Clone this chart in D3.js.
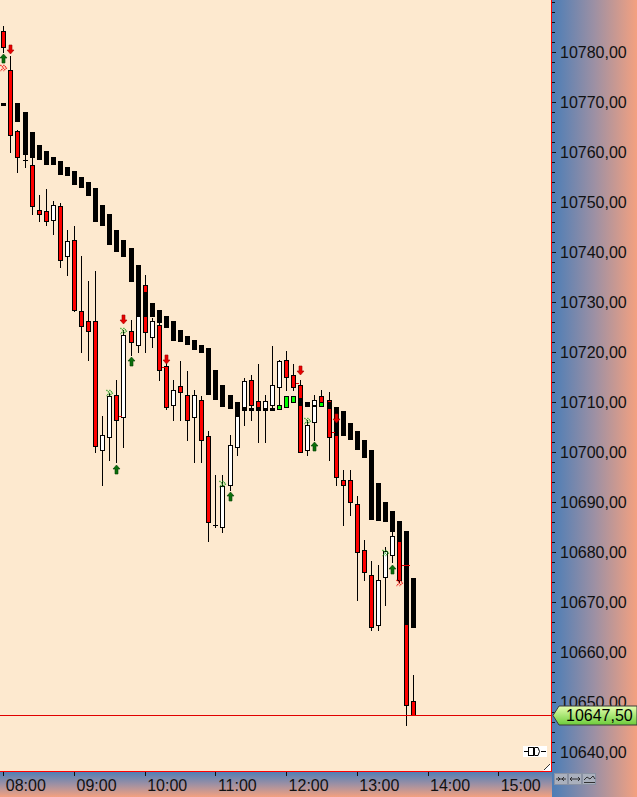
<!DOCTYPE html>
<html><head><meta charset="utf-8">
<script src="https://cdn.jsdelivr.net/npm/d3@7"></script>
<style>html,body{margin:0;padding:0;background:#fde9cf;overflow:hidden}svg{display:block}</style>
</head><body><svg id="c" width="637" height="797"></svg>
<script>
// ---------- DATA ----------
const barTimes = ["08:00","08:06","08:12","08:18","08:24","08:30","08:36","08:42","08:48","08:54",
"09:00","09:06","09:12","09:18","09:24","09:30","09:36","09:42","09:48","09:54",
"10:00","10:06","10:12","10:18","10:24","10:30","10:36","10:42","10:48","10:54",
"11:00","11:06","11:12","11:18","11:24","11:30","11:36","11:42","11:48","11:54",
"12:00","12:06","12:12","12:18","12:24","12:30","12:36","12:42","12:48","12:54",
"13:00","13:06","13:12","13:18","13:24","13:30","13:36","13:42","13:48"];
const opens  = [10784.25,10776.5,10764.25,10758.5,10757.5,10748.5,10748.25,10746.5,10749.25,10739.25,
10742.5,10728.25,10726.25,10726.25,10700.5,10703,10711.5,10707,10724.25,10721.5,
10733.5,10723,10725.5,10717.25,10709.5,10713.25,10711.5,10707,10710.5,10703.25,
10685.5,10685,10693.5,10701,10709,10714.5,10710.25,10708.5,10709.5,10713,
10718.5,10715.5,10713.5,10700.5,10706,10711.25,10710.5,10703.5,10694.5,10694.5,
10689.5,10680.5,10675.5,10665.5,10675,10679.5,10683.25,10674.5,10650.25];
const highs  = [10785.25,10779.25,10764.5,10760,10758.75,10751.5,10752.5,10750.25,10749.75,10744.5,
10745.25,10739.25,10734.25,10736.25,10707.25,10711.75,10714.5,10724.5,10726.5,10732.5,
10735.5,10726.75,10727.5,10718,10714.5,10718.25,10716.25,10712.5,10711.25,10704.25,
10695.5,10695.5,10703.5,10709.5,10714.75,10715.5,10717.5,10711.5,10721.25,10718.5,
10720.25,10717.5,10714.5,10706.5,10711.5,10712.5,10712,10705.25,10696.5,10696.5,
10691.25,10682.5,10678.25,10677.5,10681,10684.5,10684.75,10676.5,10655.5];
const lows   = [10780,10760,10756,10757,10747.5,10746.25,10745.5,10743.5,10737,10735.5,
10728.25,10720,10718.5,10700,10693.5,10698.5,10698,10701,10719.5,10720,
10720,10721,10714.5,10708.5,10706.5,10706.5,10702.5,10698,10698,10682.25,
10685,10684,10692.5,10699.5,10705.5,10706.5,10702,10702,10708.5,10708.5,
10712.5,10712.5,10700,10699.5,10702.5,10709.25,10698.5,10693.5,10685.5,10687.5,
10670.5,10674.5,10664.5,10664.5,10669.5,10678,10674,10645.5,10647.5];
const closes = [10781,10763.5,10759,10758.5,10749.25,10747.5,10746.25,10749.5,10738.5,10742.25,
10728.5,10725.25,10724.25,10701.25,10703.5,10711.25,10706.5,10723.5,10722,10731.5,
10724,10726.25,10716.5,10709,10712.5,10712,10706.5,10711.5,10702.5,10686,
10685.5,10693.25,10701.5,10707.5,10714.25,10709.5,10709,10710.25,10713.5,10718.25,
10715,10713,10700,10705.5,10710.5,10710,10703,10695,10693.5,10690,
10680,10676,10665,10674.5,10680.25,10683.25,10674.5,10649.5,10647.5];
// trailing band indicator (top, bottom, colour: k = black, g = lime)
const bandHi = [10769.75,null,10769.75,10768,10764,10761.5,10760.25,10759,10758.25,10757,
10756.25,10755,10754,10752.75,10749.5,10747.5,10744.5,10742.5,10740.75,10737.5,
10732,10729.75,10728.5,10727.25,10726.25,10724.5,10723.25,10722.5,10721.5,10720.75,
10716.5,10713.5,10711.5,10710,10708.75,10708.75,10708.75,10708.75,10708.75,10709.5,
10711.25,10711.25,10710.75,10710,10709.5,10710,10710,10709,10708.25,10705.75,
10704.25,10702.5,10700.5,10693.75,10690,10688.25,10686.25,10684.25,10674.75];
const bandLo = [10769.25,null,10766,10759.5,10758.75,10758.5,10757.5,10757.5,10755.5,10755.25,
10753.5,10752.75,10751.25,10746,10745.25,10741.5,10740,10739,10734,10727,
10727,10727,10725.75,10724.75,10722.25,10722,10721.5,10720.5,10719.75,10711.5,
10710.5,10709,10708.5,10707,10708.25,10708.25,10708.25,10708.25,10708.25,10708.5,
10709,10710,10709.25,10709,10709,10709.25,10708.5,10703.5,10703.25,10702.5,
10700.5,10698.75,10686.5,10686.25,10686,10684,10682,10665.5,10664.75];
const bandColor = ["k","k","k","k","k","k","k","k","k","k",
"k","k","k","k","k","k","k","k","k","k",
"k","k","k","k","k","k","k","k","k","k",
"k","k","k","k","k","k","k","k","k","g",
"g","g","k","k","k","g","k","k","k","k",
"k","k","k","k","k","k","k","k","k"];
// signal markers
const upArrowBars = [0,16,18,32,44,55];
const upArrowPrices = [10779.5,10697.5,10719,10692,10702,10677.5];
const downArrowBars = [1,17,23,42,47];
const downArrowPrices = [10781.5,10727.5,10719.5,10717.25,10707.5];
const greenChevronBars = [15,17,31,43,54];
const greenChevronPrices = [10712.5,10724.75,10694.25,10706.75,10680.5];
const redChevronBars = [0,56];
const redChevronPrices = [10777.5,10674.5];
const redTickBars = [16,22,41,46,56];
const redTickPrices = [10707.25,10717,10713.75,10704,10677.5];
const lastPrice = 10647.5;
const hourLabels = ["08:00","09:00","10:00","11:00","12:00","13:00","14:00","15:00"];
const priceLabels = [10640,10650,10660,10670,10680,10690,10700,10710,10720,10730,10740,10750,10760,10770,10780];

// ---------- SETUP ----------
const W = 637, H = 797, PR = 551, PB = 771;
const parse = d3.timeParse("%H:%M");
const x = d3.scaleTime().domain([parse("08:00"), parse("15:00")]).range([3.3, 3.3 + 7 * 70.7]);
const y = d3.scaleLinear().domain([10640, 10780]).range([752, 52]);
const fmt = v => v.toFixed(2).replace(".", ",");
const FONT = "'Liberation Sans', Arial, sans-serif";

const svg = d3.select("#c");
const defs = svg.append("defs");
const gR = defs.append("linearGradient").attr("id","gR").attr("x1","0").attr("x2","1").attr("y1","0").attr("y2","0");
gR.append("stop").attr("offset","0").attr("stop-color","#4a7db7");
gR.append("stop").attr("offset","0.5").attr("stop-color","#9c90a4");
gR.append("stop").attr("offset","1").attr("stop-color","#f4a180");
const gB = defs.append("linearGradient").attr("id","gB").attr("x1","0").attr("x2","0").attr("y1","0").attr("y2","1");
gB.append("stop").attr("offset","0").attr("stop-color","#4a7db7");
gB.append("stop").attr("offset","0.5").attr("stop-color","#9c90a4");
gB.append("stop").attr("offset","1").attr("stop-color","#f4a180");
const gG = defs.append("linearGradient").attr("id","gG").attr("x1","0").attr("x2","0").attr("y1","0").attr("y2","1");
gG.append("stop").attr("offset","0").attr("stop-color","#e6ffb0");
gG.append("stop").attr("offset","1").attr("stop-color","#6ccc3a");

// backgrounds
svg.append("rect").attr("x",0).attr("y",0).attr("width",PR).attr("height",PB).attr("fill","#fde9cf");
svg.append("rect").attr("x",PR).attr("y",0).attr("width",W-PR).attr("height",H).attr("fill","url(#gR)");
svg.append("rect").attr("x",0).attr("y",PB).attr("width",PR+1).attr("height",H-PB).attr("fill","url(#gB)");

const plot = svg.append("g").attr("shape-rendering","crispEdges");
const bars = barTimes.map((t,i)=>({i, t:parse(t), o:opens[i], h:highs[i], l:lows[i], c:closes[i],
  bh:bandHi[i], bl:bandLo[i], bc:bandColor[i]}));
const rx = d => Math.round(x(d.t));
const ry = v => Math.round(y(v));

// wicks
plot.selectAll("line.wick").data(bars).join("line").attr("class","wick")
  .attr("x1",d=>rx(d)+0.5).attr("x2",d=>rx(d)+0.5)
  .attr("y1",d=>ry(d.h)).attr("y2",d=>ry(d.l)+1)
  .attr("stroke","#000").attr("stroke-width",1);
// bodies
const bodies = bars.filter(d=>ry(Math.min(d.o,d.c))-ry(Math.max(d.o,d.c))>0);
plot.selectAll("rect.body").data(bodies).join("rect").attr("class","body")
  .attr("x",d=>rx(d)-1.5).attr("width",4)
  .attr("y",d=>ry(Math.max(d.o,d.c))+0.5)
  .attr("height",d=>ry(Math.min(d.o,d.c))-ry(Math.max(d.o,d.c)))
  .attr("fill",d=>d.c<d.o?"#ff0000":"#ffffff").attr("stroke","#000").attr("stroke-width",1);
const dojis = bars.filter(d=>ry(Math.min(d.o,d.c))-ry(Math.max(d.o,d.c))<=0);
plot.selectAll("line.doji").data(dojis).join("line").attr("class","doji")
  .attr("x1",d=>rx(d)-2).attr("x2",d=>rx(d)+3)
  .attr("y1",d=>ry(d.o)+0.5).attr("y2",d=>ry(d.o)+0.5)
  .attr("stroke","#000").attr("stroke-width",1);

// band indicator
const band = bars.filter(d=>d.bh!=null);
plot.selectAll("rect.bandk").data(band.filter(d=>d.bc==="k")).join("rect").attr("class","bandk")
  .attr("x",d=>rx(d)-2).attr("width",5)
  .attr("y",d=>ry(d.bh)).attr("height",d=>Math.max(ry(d.bl)-ry(d.bh),2))
  .attr("fill","#000");
plot.selectAll("rect.bandg").data(band.filter(d=>d.bc==="g")).join("rect").attr("class","bandg")
  .attr("x",d=>rx(d)-1.5).attr("width",4)
  .attr("y",d=>ry(d.bh)+0.5).attr("height",d=>Math.max(ry(d.bl)-ry(d.bh),2))
  .attr("fill","#00ff00").attr("stroke","#000").attr("stroke-width",1);

// markers
const mk = svg.append("g");
const bx = i => Math.round(x(parse(barTimes[i]))) + 0.5;
mk.selectAll("path.up").data(upArrowBars).join("path").attr("class","up")
  .attr("d",(b,k)=>{const c=bx(b), t=ry(upArrowPrices[k]);
    return `M${c},${t} L${c+3.5},${t+4} L${c+1.5},${t+4} L${c+1.5},${t+9} L${c-1.5},${t+9} L${c-1.5},${t+4} L${c-3.5},${t+4} Z`;})
  .attr("fill","#0b6e0b").attr("stroke","#044004").attr("stroke-width",0.6);
mk.selectAll("path.dn").data(downArrowBars).join("path").attr("class","dn")
  .attr("d",(b,k)=>{const c=bx(b), t=ry(downArrowPrices[k]);
    return `M${c-1.5},${t} L${c+1.5},${t} L${c+1.5},${t+5} L${c+3.5},${t+5} L${c},${t+9} L${c-3.5},${t+5} L${c-1.5},${t+5} Z`;})
  .attr("fill","#e80000").attr("stroke","#a00000").attr("stroke-width",0.6);
function chevron(c,t){return `M${c-3},${t} L${c},${t+3} L${c-3},${t+6} M${c},${t} L${c+3},${t+3} L${c},${t+6}`;}
mk.selectAll("path.gch").data(greenChevronBars).join("path").attr("class","gch")
  .attr("d",(b,k)=>chevron(bx(b),ry(greenChevronPrices[k])))
  .attr("fill","none").attr("stroke","#1a9a1a").attr("stroke-width",1.2).attr("stroke-dasharray","1.2,0.8");
mk.selectAll("path.rch").data(redChevronBars).join("path").attr("class","rch")
  .attr("d",(b,k)=>chevron(bx(b),ry(redChevronPrices[k])))
  .attr("fill","none").attr("stroke","#ee0000").attr("stroke-width",1.2).attr("stroke-dasharray","1.2,0.8");
mk.selectAll("line.rt").data(redTickBars).join("line").attr("class","rt")
  .attr("x1",b=>bx(b)+2).attr("x2",(b,k)=>bx(b)+(k===redTickBars.length-1?10:5))
  .attr("y1",(b,k)=>ry(redTickPrices[k])+0.5).attr("y2",(b,k)=>ry(redTickPrices[k])+0.5)
  .attr("stroke","#e00000").attr("stroke-width",1).attr("shape-rendering","crispEdges");

// last price line
svg.append("line").attr("x1",0).attr("x2",PR).attr("y1",ry(lastPrice)+0.5).attr("y2",ry(lastPrice)+0.5)
  .attr("stroke","#e00000").attr("stroke-width",1).attr("shape-rendering","crispEdges");

// small icons bottom-right of plot
const ic = svg.append("g").attr("shape-rendering","crispEdges");
ic.append("rect").attr("x",523).attr("y",746).attr("width",24).attr("height",11).attr("fill","#fff");
ic.append("path").attr("d","M524,751.5 H528 M541,751.5 H546").attr("stroke","#000");
ic.append("rect").attr("x",528.5).attr("y",747.5).attr("width",5).attr("height",8).attr("fill","#fff").attr("stroke","#000");
ic.append("path").attr("d","M534.5,747.5 H538 Q541,751.5 538,755.5 H534.5 Z").attr("fill","#fff").attr("stroke","#000").attr("shape-rendering","auto");
svg.append("path").attr("d","M551,763 L551,771 L543,771 Z").attr("fill","#fff");
svg.append("path").attr("d","M550,764 L544,770").attr("stroke","#333").attr("stroke-width",1);

// plot borders (red)
svg.append("line").attr("x1",PR+0.5).attr("x2",PR+0.5).attr("y1",0).attr("y2",PB+1).attr("stroke","#ff0000").attr("shape-rendering","crispEdges");
svg.append("line").attr("x1",0).attr("x2",PR+1).attr("y1",PB+0.5).attr("y2",PB+0.5).attr("stroke","#ff0000").attr("shape-rendering","crispEdges");

// right price axis
const minorVals = d3.range(10638, 10791, 2);
const ax1 = svg.append("g").attr("transform",`translate(${PR+1},0)`)
  .call(d3.axisRight(y).tickValues(minorVals).tickSize(3).tickFormat(""));
const ax2 = svg.append("g").attr("transform",`translate(${PR+1},0)`)
  .call(d3.axisRight(y).tickValues(priceLabels).tickSize(4).tickPadding(4).tickFormat(fmt));
[ax1,ax2].forEach(a=>{a.select(".domain").remove();
  a.selectAll("line").attr("stroke","#111").attr("shape-rendering","crispEdges");
  a.selectAll("text").attr("fill","#111").style("font-family",FONT).style("font-size","16px");});

// last price label
const ly = ry(lastPrice)+0.5;
svg.append("path").attr("d",`M553,${ly} L559,${ly-9.5} L637,${ly-9.5} L637,${ly+9.5} L559,${ly+9.5} Z`)
  .attr("fill","url(#gG)").attr("stroke","#3a3a3a").attr("stroke-width",1);
svg.append("text").attr("x",566).attr("y",ly).attr("dy","0.35em").text(fmt(lastPrice))
  .attr("fill","#000").style("font-family",FONT).style("font-size","16px");

// bottom time axis
const axB = svg.append("g").attr("transform",`translate(0,${PB+1})`)
  .call(d3.axisBottom(x).tickValues(hourLabels.map(parse)).tickSize(4).tickPadding(4).tickFormat(d3.timeFormat("%H:%M")));
axB.select(".domain").remove();
axB.selectAll("line").attr("stroke","#111").attr("shape-rendering","crispEdges");
axB.selectAll("text").attr("text-anchor","start").attr("dx",2).attr("fill","#111")
  .style("font-family",FONT).style("font-size","16px");

// corner buttons
const btn = svg.append("g");
[554,568,582].forEach((bx0,k)=>{
  btn.append("rect").attr("x",bx0+0.5).attr("y",773.5).attr("width",13).attr("height",11)
    .attr("fill","#aab0bd").attr("stroke","#8a92a3").attr("shape-rendering","crispEdges");
});
btn.append("path").attr("d","M556,779 H566 M558,777 L560,779 L558,781 M564,777 L562,779 L564,781").attr("stroke","#222").attr("fill","none").attr("stroke-width",0.9);
btn.append("path").attr("d","M570,779 H580 M572,777 L570,779 L572,781 M578,777 L580,779 L578,781").attr("stroke","#222").attr("fill","none").attr("stroke-width",0.9);
btn.append("path").attr("d","M584,780 L587,777 L590,779 L593,776 L595,779 M584,782.5 H595").attr("stroke","#222").attr("fill","none").attr("stroke-width",0.9);
</script></body></html>
